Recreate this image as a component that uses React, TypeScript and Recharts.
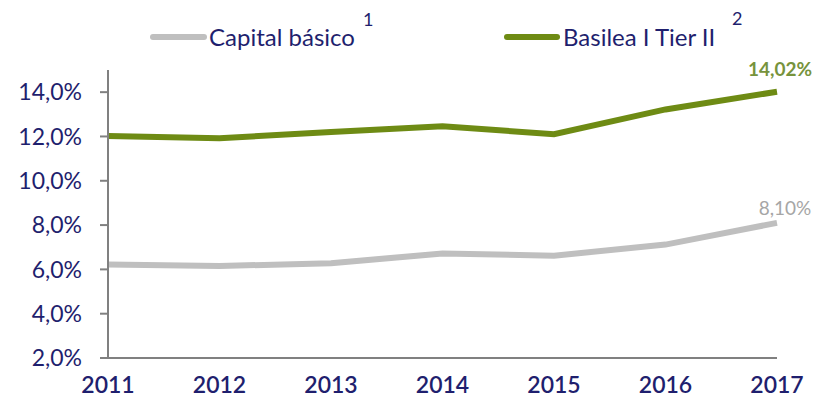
import React from 'react'
import { LineChart, Line, XAxis, YAxis, LabelList } from 'recharts'

const years = ['2011', '2012', '2013', '2014', '2015', '2016', '2017']
const capitalBasico = [6.22, 6.15, 6.28, 6.72, 6.62, 7.12, 8.1]
const basileaTier2 = [12.02, 11.92, 12.2, 12.46, 12.1, 13.22, 14.02]
const yTicks = [2, 4, 6, 8, 10, 12, 14]

const NAVY = '#1f1f6e'
const GREEN = '#6e8b14'
const GRAY = '#bfbfbf'
const FONT = 'Lato, "Open Sans", sans-serif'

const data = years.map((year, i) => ({
  year,
  capital: capitalBasico[i],
  basilea: basileaTier2[i],
}))

const fmtTick = (v: number) => `${v.toFixed(1).replace('.', ',')}%`
const fmtLabel = (v: number) => `${v.toFixed(2).replace('.', ',')}%`

const makeEndLabel = (color: string, dy: number, dx: number, bold: boolean) => (props: any) => {
  const { x, y, value, index } = props
  if (index !== years.length - 1) return null
  return (
    <text
      x={x + dx}
      y={y + dy}
      fill={color}
      fontSize={19}
      fontWeight={bold ? 700 : 400}
      fontFamily={FONT}
      textAnchor="middle"
      dominantBaseline="central"
    >
      {fmtLabel(value)}
    </text>
  )
}

// legend sits above the plot, drawn outside recharts so it doesn't shrink the plot area
const ChartLegend = () => (
  <div style={{ position: 'absolute', left: 0, top: 0, width: 814, height: 60, fontFamily: FONT, color: NAVY }}>
    <div style={{ position: 'absolute', left: 150, top: 34, width: 57, height: 6, borderRadius: 3, background: GRAY }} />
    <div style={{ position: 'absolute', left: 209, top: 22, fontSize: 24, lineHeight: '30px' }}>Capital básico</div>
    <div style={{ position: 'absolute', left: 363, top: 8, fontSize: 18, lineHeight: '22px' }}>1</div>
    <div style={{ position: 'absolute', left: 504, top: 34, width: 56, height: 6, borderRadius: 3, background: GREEN }} />
    <div style={{ position: 'absolute', left: 563, top: 22, fontSize: 24, lineHeight: '30px' }}>Basilea I Tier II</div>
    <div style={{ position: 'absolute', left: 732, top: 7, fontSize: 18, lineHeight: '22px' }}>2</div>
  </div>
)

export default function App() {
  return (
    <div style={{ position: 'absolute', left: 0, top: 0, width: 814, height: 403, background: '#fff' }}>
      <LineChart width={814} height={403} data={data} margin={{ top: 70, right: 37, bottom: 0, left: 0 }}>
        <XAxis
          dataKey="year"
          height={45}
          tickLine={false}
          tickMargin={13}
          axisLine={{ stroke: '#808080', strokeWidth: 2 }}
          tick={{ fill: NAVY, fontSize: 23, fontFamily: FONT, fontWeight: 600 }}
          interval={0}
        />
        <YAxis
          width={108}
          domain={[2, 15]}
          ticks={yTicks}
          tickFormatter={fmtTick}
          tickSize={8}
          tickMargin={18}
          axisLine={{ stroke: '#808080', strokeWidth: 2 }}
          tickLine={{ stroke: '#808080', strokeWidth: 2 }}
          tick={{ fill: NAVY, fontSize: 23, fontFamily: FONT }}
          allowDataOverflow
        />
        <Line
          dataKey="capital"
          stroke={GRAY}
          strokeWidth={6}
          dot={false}
          isAnimationActive={false}
        >
          <LabelList dataKey="capital" content={makeEndLabel('#a6a6a6', -15, 8, false)} />
        </Line>
        <Line
          dataKey="basilea"
          stroke={GREEN}
          strokeWidth={6}
          dot={false}
          isAnimationActive={false}
        >
          <LabelList dataKey="basilea" content={makeEndLabel('#77933c', -23, 3, true)} />
        </Line>
      </LineChart>
      <ChartLegend />
    </div>
  )
}
